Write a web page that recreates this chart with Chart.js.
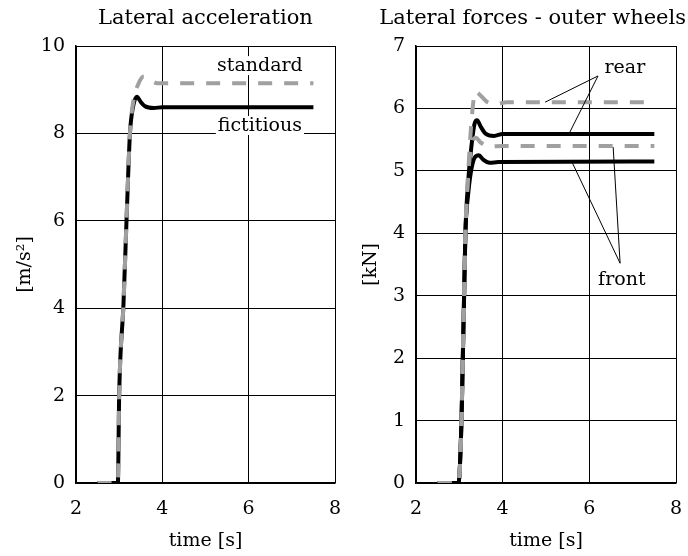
<!DOCTYPE html>
<html>
<head>
<meta charset="utf-8">
<script src="https://cdn.jsdelivr.net/npm/chart.js@4.4.1/dist/chart.umd.min.js"></script>
<style>
  body { margin: 0; background: #fff; }
  .box { position: absolute; top: 0; width: 344px; height: 556px; }
</style>
</head>
<body>
<div class="box" style="left:0"><canvas id="accChart" width="344" height="556"></canvas></div>
<div class="box" style="left:344px"><canvas id="forceChart" width="344" height="556"></canvas></div>
<script>
// Lateral acceleration [m/s2]
const accTimeFic = [2.5, 2.97, 3.0, 3.1, 3.17, 3.25, 3.32, 3.41, 3.5, 3.6, 3.8, 4.0, 7.5];
const accFic     = [0, 0, 2.0, 4.1, 6.0, 8.0, 8.6, 8.84, 8.72, 8.62, 8.58, 8.6, 8.6];
const accTimeStd = [2.5, 2.97, 3.0, 3.1, 3.17, 3.25, 3.33, 3.44, 3.57, 3.72, 3.88, 4.1, 7.5];
const accStd     = [0, 0, 2.0, 4.1, 6.0, 8.0, 8.75, 9.12, 9.3, 9.22, 9.15, 9.15, 9.15];

// Lateral forces - outer wheels [kN]
const fTimeRearFic  = [2.5, 2.98, 3.05, 3.08, 3.11, 3.14, 3.2, 3.28, 3.35, 3.41, 3.5, 3.6, 3.8, 4.0, 7.5];
const fRearFic      = [0, 0, 1.0, 2.0, 3.0, 4.0, 4.8, 5.4, 5.75, 5.81, 5.7, 5.6, 5.56, 5.59, 5.59];
const fTimeFrontFic = [2.5, 2.98, 3.05, 3.08, 3.11, 3.14, 3.2, 3.3, 3.45, 3.55, 3.7, 3.9, 7.5];
const fFrontFic     = [0, 0, 1.0, 2.0, 3.0, 4.0, 4.6, 5.1, 5.25, 5.18, 5.13, 5.14, 5.15];
const fTimeRearStd  = [2.5, 2.98, 3.05, 3.08, 3.11, 3.14, 3.2, 3.27, 3.37, 3.5, 3.65, 3.85, 4.1, 7.5];
const fRearStd      = [0, 0, 1.0, 2.0, 3.0, 4.0, 4.9, 5.7, 6.27, 6.2, 6.1, 6.07, 6.1, 6.1];
const fTimeFrontStd = [2.5, 2.98, 3.05, 3.08, 3.11, 3.14, 3.2, 3.3, 3.38, 3.5, 3.7, 4.0, 7.5];
const fFrontStd     = [0, 0, 1.0, 2.0, 3.0, 4.0, 4.9, 5.45, 5.53, 5.45, 5.39, 5.4, 5.4];

const timeTicks = [2, 4, 6, 8];

const FONT = 'DejaVu Serif';
const FSIZE = 19;
const GRAY = '#a0a0a0';

function pts(xs, ys) {
  return xs.map((x, i) => ({ x: x, y: ys[i] }));
}

function line(xs, ys, dashed) {
  return {
    data: pts(xs, ys),
    borderColor: dashed ? GRAY : '#000',
    borderWidth: 4,
    borderDash: dashed ? [14, 12] : [],
    borderCapStyle: 'butt',
    pointRadius: 0,
    cubicInterpolationMode: 'monotone',
    fill: false
  };
}

// title and annotations drawn on top
const notes = {
  id: 'notes',
  afterDatasetsDraw(chart, args, opts) {
    const ctx = chart.ctx;
    const xs = chart.scales.x, ys = chart.scales.y;
    const area = chart.chartArea;
    ctx.save();
    ctx.fillStyle = '#000';
    ctx.textAlign = 'center';
    ctx.textBaseline = 'middle';
    ctx.font = '21px "' + FONT + '"';
    let tw = ctx.measureText(opts.title).width;
    let tx = Math.min((area.left + area.right) / 2, chart.width - tw / 2 - 2);
    ctx.fillText(opts.title, tx, 19);

    ctx.font = FSIZE + 'px "' + FONT + '"';
    ctx.lineWidth = 1;
    ctx.strokeStyle = '#000';
    (opts.leaders || []).forEach(l => {
      ctx.beginPath();
      ctx.moveTo(xs.getPixelForValue(l[0]), ys.getPixelForValue(l[1]));
      ctx.lineTo(xs.getPixelForValue(l[2]), ys.getPixelForValue(l[3]));
      ctx.stroke();
    });
    (opts.labels || []).forEach(l => {
      const px = xs.getPixelForValue(l.x), py = ys.getPixelForValue(l.y);
      const w = ctx.measureText(l.text).width;
      if (l.bg) {
        ctx.fillStyle = '#fff';
        ctx.fillRect(px - w / 2 - 2, py - 10, w + 4, 19);
      }
      ctx.fillStyle = '#000';
      ctx.fillText(l.text, px, py);
    });
    ctx.restore();
  }
};

function config(datasets, yMax, yStep, yTitle, rightPad, yWidth, yTitlePad, noteOpts) {
  return {
    type: 'line',
    data: { datasets: datasets },
    plugins: [notes],
    options: {
      responsive: false,
      animation: false,
      layout: { padding: { top: 46, right: rightPad, left: 0, bottom: 0 } },
      plugins: {
        legend: { display: false },
        tooltip: { enabled: false },
        notes: noteOpts
      },
      scales: {
        x: {
          type: 'linear',
          min: 2, max: 8,
          afterBuildTicks: s => { s.ticks = timeTicks.map(v => ({ value: v })); },
          afterFit: s => { s.height = 73; s.paddingLeft = 0; s.paddingRight = 0; },
          grid: { color: '#000', lineWidth: 1, drawTicks: false },
          border: { color: '#000', width: 1.5 },
          ticks: { color: '#000', padding: 15, font: { family: FONT, size: FSIZE } },
          title: { display: true, text: 'time [s]', color: '#000', padding: { top: 0, bottom: 4 }, font: { family: FONT, size: FSIZE } }
        },
        y: {
          min: 0, max: yMax,
          afterFit: s => { s.width = yWidth; s.paddingTop = 0; s.paddingBottom = 0; },
          grid: { color: '#000', lineWidth: 1, drawTicks: false },
          border: { color: '#000', width: 1.5 },
          ticks: { color: '#000', stepSize: yStep, padding: 11, font: { family: FONT, size: FSIZE } },
          title: { display: true, text: yTitle, color: '#000', padding: { top: yTitlePad, bottom: 0 }, font: { family: FONT, size: FSIZE } }
        }
      }
    }
  };
}

const accConfig = config(
  [line(accTimeStd, accStd, true), line(accTimeFic, accFic, false)],
  10, 2, '[m/s\u00B2]', 9, 76, 14,
  {
    title: 'Lateral acceleration',
    labels: [
      { text: 'standard', x: 6.26, y: 9.54, bg: true },
      { text: 'fictitious', x: 6.26, y: 8.17, bg: true }
    ]
  }
);
var acc_area = document.getElementById('accChart');
var myAccChart = new Chart(acc_area, accConfig);

const forceConfig = config(
  [line(fTimeRearStd, fRearStd, true), line(fTimeFrontStd, fFrontStd, true),
   line(fTimeRearFic, fRearFic, false), line(fTimeFrontFic, fFrontFic, false)],
  7, 1, '[kN]', 12, 72, 16,
  {
    title: 'Lateral forces - outer wheels',
    leaders: [
      [6.2, 6.52, 4.98, 6.10],
      [6.2, 6.52, 5.55, 5.62],
      [6.71, 3.52, 5.6, 5.14],
      [6.71, 3.52, 6.55, 5.38]
    ],
    labels: [
      { text: 'rear', x: 6.82, y: 6.65 },
      { text: 'front', x: 6.75, y: 3.25 }
    ]
  }
);
var force_area = document.getElementById('forceChart');
var myForceChart = new Chart(force_area, forceConfig);
</script>
</body>
</html>
